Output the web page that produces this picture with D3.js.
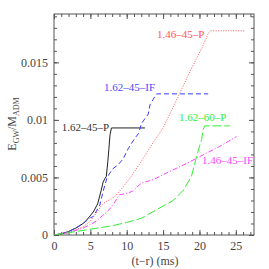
<!DOCTYPE html>
<html><head><meta charset="utf-8">
<script src="https://cdn.jsdelivr.net/npm/d3@7"></script>
<style>body{margin:0;background:#fff}svg{display:block}</style>
</head><body>
<script>
const xTicks = [0,5,10,15,20,25];
const yTicks = [0,0.005,0.01,0.015];
const yTickLabels = ["0","0.005","0.01","0.015"];
const s162_45_P = [[0,0],[1,0.0001],[2,0.0003],[3,0.0006],[4,0.0010],[4.5,0.0013],[5.4,0.0020],[6,0.0027],[6.5,0.0039],[6.75,0.0046],[7.0,0.0049],[7.2,0.0051],[7.4,0.0064],[7.55,0.0075],[7.7,0.0087],[7.9,0.0093],[12.5,0.0093]];
const s162_45_IF = [[0,0],[1,0.0001],[2,0.0003],[3,0.0006],[4,0.0010],[5,0.0015],[5.4,0.0016],[6.3,0.0026],[6.8,0.0039],[7.3,0.0050],[8,0.0057],[8.8,0.0061],[9.5,0.0066],[10.2,0.0075],[11.1,0.0084],[11.6,0.0088],[12.05,0.0097],[12.5,0.0101],[12.95,0.0105],[13.2,0.0113],[13.65,0.0118],[14.1,0.01226],[21.2,0.01226]];
const s146_45_P = [[0,0],[2,0.0002],[4,0.0007],[5,0.0012],[5.8,0.0019],[6.7,0.0027],[7.2,0.0029],[8.3,0.0033],[9,0.0038],[10.4,0.0049],[12,0.0064],[13.5,0.0079],[15,0.0093],[16.3,0.0110],[17.5,0.0126],[18.7,0.0142],[20.3,0.0162],[21.2,0.0175],[21.5,0.01774],[26.2,0.01774]];
const s146_45_IF = [[0,0],[2,0.0002],[4,0.0006],[5,0.0009],[5.8,0.0012],[6.7,0.0017],[7.6,0.0022],[8.3,0.0028],[9,0.0035],[9.9,0.0036],[10.8,0.0038],[12,0.0045],[13.6,0.0048],[15.5,0.0054],[18.2,0.0062],[20,0.0068],[22.8,0.0077],[25.1,0.00855]];
const s162_60_P = [[0,0],[2,0.0002],[4,0.0004],[6,0.0006],[8,0.0008],[10,0.0011],[12,0.00145],[14.1,0.0022],[16.4,0.0030],[17.8,0.0039],[18.9,0.0051],[19.6,0.0068],[20.05,0.0078],[20.3,0.0083],[20.5,0.0091],[20.7,0.00948],[24.2,0.00948]];
const seriesNames = ["1.62\u201345\u2013P","1.62\u201345\u2013IF","1.46\u201345\u2013P","1.46\u201345\u2013IF","1.62\u201360\u2013P"];
const seriesData = [s162_45_P, s162_45_IF, s146_45_P, s146_45_IF, s162_60_P];
const seriesColors = ["#222222","#3a3aff","#ff5555","#ff44ff","#33ee33"];
const labelColors = ["#333333","#4a4aff","#ff5555","#ff44ff","#33ee33"];
const seriesDash = [null,"5,3","1,1.5","5,2,1,2","9,3"];
const labelPos = [[109,131,"end"],[104,91,"start"],[157,38,"start"],[202,164,"start"],[179,121,"start"]];

const W=269,H=269, L=54, R=254, T=14, B=235;
const svg = d3.select("body").append("svg").attr("width",W).attr("height",H);
const x = d3.scaleLinear().domain([0,27.5]).range([L,R]);
const y = d3.scaleLinear().domain([0,0.0192]).range([B,T]);
const font = "Liberation Serif, Times New Roman, serif";

const g = svg.append("g");
g.append("rect").attr("x",L).attr("y",T).attr("width",R-L).attr("height",B-T)
 .attr("fill","none").attr("stroke","#555").attr("stroke-width",1);

const xMinor = d3.range(0,28,1);
const yMinor = d3.range(0,0.0192,0.001);
function drawAxis(axisFn, scale, major, minor, pos, labels, fmt){
  const a1 = axisFn(scale).tickValues(minor).tickSize(-3).tickFormat("");
  const ga = svg.append("g").attr("transform",pos).call(a1);
  ga.select(".domain").remove();
  ga.selectAll("line").attr("stroke","#555");
  const a2 = axisFn(scale).tickValues(major).tickSize(-5).tickPadding(6);
  if(labels) a2.tickFormat(fmt); else a2.tickFormat("");
  const gb = svg.append("g").attr("transform",pos).call(a2);
  gb.select(".domain").remove();
  gb.selectAll("line").attr("stroke","#555");
  gb.selectAll("text").attr("font-family",font).attr("font-size",12).attr("fill","#444");
  return gb;
}
drawAxis(d3.axisBottom, x, xTicks, xMinor, `translate(0,${B})`, true, d=>String(d));
drawAxis(d3.axisTop, x, xTicks, xMinor, `translate(0,${T})`, false);
drawAxis(d3.axisLeft, y, yTicks, yMinor, `translate(${L},0)`, true, (d,i)=>yTickLabels[i]);
drawAxis(d3.axisRight, y, yTicks, yMinor, `translate(${R},0)`, false);

const line = d3.line().x(d=>x(d[0])).y(d=>y(d[1]));
svg.append("clipPath").attr("id","c").append("rect").attr("x",L).attr("y",T).attr("width",R-L).attr("height",B-T);
seriesData.forEach((s,i)=>{
  svg.append("path").attr("d",line(s)).attr("fill","none")
    .attr("stroke",seriesColors[i]).attr("stroke-width",1)
    .attr("stroke-dasharray",seriesDash[i]).attr("clip-path","url(#c)");
  svg.append("text").attr("x",labelPos[i][0]).attr("y",labelPos[i][1])
    .attr("text-anchor",labelPos[i][2]).attr("font-family",font).attr("font-size",11)
    .attr("fill",labelColors[i]).text(seriesNames[i]);
});

svg.append("text").attr("x",155).attr("y",265).attr("text-anchor","middle")
  .attr("font-family",font).attr("font-size",12).attr("fill","#444").text("(t\u2212r) (ms)");
const yl = svg.append("text").attr("transform","translate(16,124) rotate(-90)")
  .attr("text-anchor","middle").attr("font-family",font).attr("font-size",12).attr("fill","#444");
yl.append("tspan").text("E");
yl.append("tspan").attr("font-size",8).attr("dy",3).text("GW");
yl.append("tspan").attr("dy",-3).text("/M");
yl.append("tspan").attr("font-size",8).attr("dy",3).text("ADM");
</script>
</body></html>
